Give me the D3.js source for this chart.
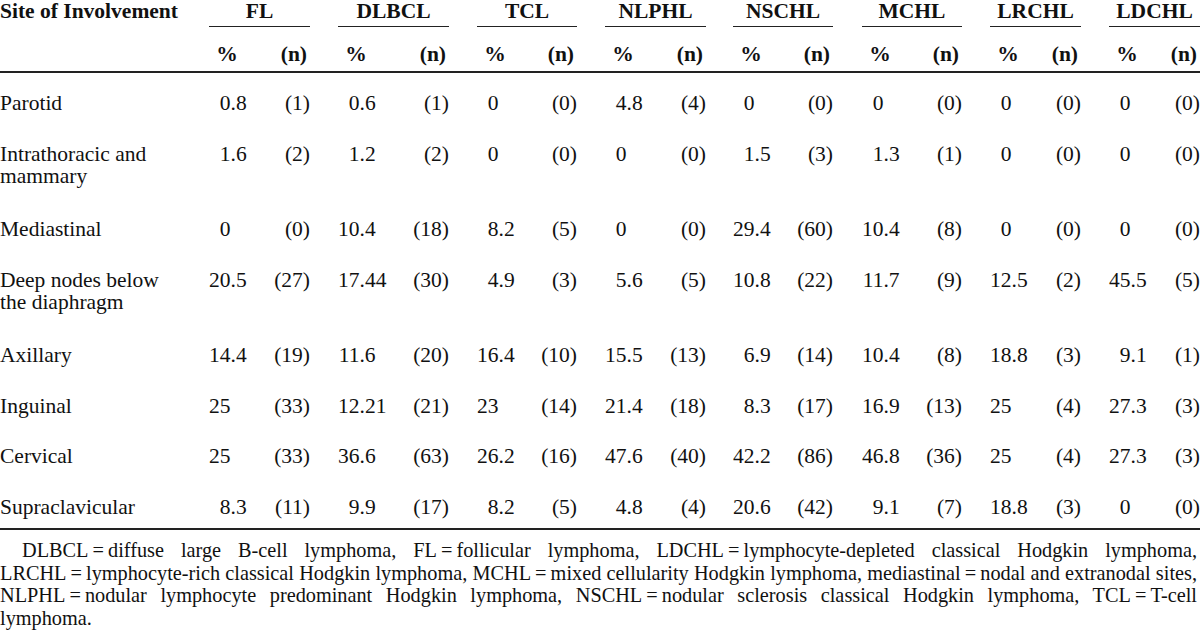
<!DOCTYPE html>
<meta charset="utf-8">
<style>

body {
  margin: 0;
  background: #fff;
}

text {
  font-family: "Liberation Serif", "Times New Roman", serif;
  font-size: 21.5px;
  fill: #111;
}

.head {
  font-weight: bold;
}

.foot {
  font-size: 20.3px;
}

.rule {
  stroke: #222;
  shape-rendering: crispEdges;
}

</style>
<body>
<script src="https://cdn.jsdelivr.net/npm/d3@7"></script>
<script>

// table data
var groups = ["FL", "DLBCL", "TCL", "NLPHL", "NSCHL", "MCHL", "LRCHL", "LDCHL"];

var sites = [["Parotid"],
             ["Intrathoracic and", "mammary"],
             ["Mediastinal"],
             ["Deep nodes below", "the diaphragm"],
             ["Axillary"],
             ["Inguinal"],
             ["Cervical"],
             ["Supraclavicular"]];

var pctFL    = [0.8, 1.6, 0, 20.5, 14.4, 25, 25, 8.3],
    nFL      = [1, 2, 0, 27, 19, 33, 33, 11];
var pctDLBCL = [0.6, 1.2, 10.4, 17.44, 11.6, 12.21, 36.6, 9.9],
    nDLBCL   = [1, 2, 18, 30, 20, 21, 63, 17];
var pctTCL   = [0, 0, 8.2, 4.9, 16.4, 23, 26.2, 8.2],
    nTCL     = [0, 0, 5, 3, 10, 14, 16, 5];
var pctNLPHL = [4.8, 0, 0, 5.6, 15.5, 21.4, 47.6, 4.8],
    nNLPHL   = [4, 0, 0, 5, 13, 18, 40, 4];
var pctNSCHL = [0, 1.5, 29.4, 10.8, 6.9, 8.3, 42.2, 20.6],
    nNSCHL   = [0, 3, 60, 22, 14, 17, 86, 42];
var pctMCHL  = [0, 1.3, 10.4, 11.7, 10.4, 16.9, 46.8, 9.1],
    nMCHL    = [0, 1, 8, 9, 8, 13, 36, 7];
var pctLRCHL = [0, 0, 0, 12.5, 18.8, 25, 25, 18.8],
    nLRCHL   = [0, 0, 0, 2, 3, 4, 4, 3];
var pctLDCHL = [0, 0, 0, 45.5, 9.1, 27.3, 27.3, 0],
    nLDCHL   = [0, 0, 0, 5, 1, 3, 3, 0];

var pct = [pctFL, pctDLBCL, pctTCL, pctNLPHL, pctNSCHL, pctMCHL, pctLRCHL, pctLDCHL],
    cnt = [nFL, nDLBCL, nTCL, nNLPHL, nNSCHL, nMCHL, nLRCHL, nLDCHL];

var notes = ["DLBCL\u2009=\u2009diffuse large B-cell lymphoma, FL\u2009=\u2009follicular lymphoma, LDCHL\u2009=\u2009lymphocyte-depleted classical Hodgkin lymphoma,",
             "LRCHL\u2009=\u2009lymphocyte-rich classical Hodgkin lymphoma, MCHL\u2009=\u2009mixed cellularity Hodgkin lymphoma, mediastinal\u2009=\u2009nodal and extranodal sites,",
             "NLPHL\u2009=\u2009nodular lymphocyte predominant Hodgkin lymphoma, NSCHL\u2009=\u2009nodular sclerosis classical Hodgkin lymphoma, TCL\u2009=\u2009T-cell",
             "lymphoma."];

var width = 1200,
    height = 630;

// column edges of each group (the underline span)
var colLeft  = d3.scaleOrdinal(groups, [209, 338, 477, 605, 733, 862, 990, 1109]),
    colRight = d3.scaleOrdinal(groups, [310, 449, 577, 706, 833, 962, 1081, 1200]);

// row baselines: each extra text line pushes the rows below down
var rowY = [];
(function () {
  var y = 110;
  sites.forEach(function (s, i) {
    rowY.push(y);
    y += 50.5 + (s.length - 1) * 25;
  });
})();
var y = d3.scaleOrdinal(d3.range(sites.length), rowY);

var svg = d3.select("body").append("svg")
    .attr("width", width)
    .attr("height", height);

// header
svg.append("text")
    .attr("class", "head")
    .attr("x", 0)
    .attr("y", 18)
    .text("Site of Involvement");

var g = svg.append("g").selectAll("g")
    .data(groups)
  .enter().append("g");

g.append("text")
    .attr("class", "head")
    .attr("x", function (d) { return (colLeft(d) + colRight(d)) / 2; })
    .attr("y", 18)
    .attr("text-anchor", "middle")
    .text(function (d) { return d; });

g.append("line")
    .attr("class", "rule")
    .attr("x1", colLeft)
    .attr("x2", colRight)
    .attr("y1", 26.5)
    .attr("y2", 26.5)
    .style("stroke-width", 1.5);

g.append("text")
    .attr("class", "head")
    .attr("x", function (d) { return colLeft(d) + 18; })
    .attr("y", 61)
    .attr("text-anchor", "middle")
    .text("%");

g.append("text")
    .attr("class", "head")
    .attr("x", function (d) { return colRight(d) - 3; })
    .attr("y", 61)
    .attr("text-anchor", "end")
    .text("(n)");

svg.append("line")
    .attr("class", "rule")
    .attr("x1", 0).attr("x2", width)
    .attr("y1", 72).attr("y2", 72)
    .style("stroke-width", 2);

// row labels
svg.append("g").selectAll("text")
    .data(sites)
  .enter().append("text")
    .attr("x", 0)
    .attr("y", function (d, i) { return y(i); })
    .each(function (d) {
      var t = d3.select(this);
      d.forEach(function (line, k) {
        t.append("tspan")
          .attr("x", 0)
          .attr("dy", k ? 22 : 0)
          .text(line);
      });
    });

// cells
var cells = [];
groups.forEach(function (grp, j) {
  sites.forEach(function (s, i) {
    cells.push({group: grp, row: i, pct: String(pct[j][i]), n: "(" + cnt[j][i] + ")"});
  });
});

var cellG = svg.append("g");

// percentages are aligned on the decimal point
cellG.selectAll(".pct")
    .data(cells)
  .enter().append("text")
    .attr("class", "pct")
    .attr("y", function (d) { return y(d.row); })
    .text(function (d) { return d.pct; })
    .attr("x", function (d) {
      var intLen = d.pct.split(".")[0].length,
          w = this.getSubStringLength(0, intLen);
      return colLeft(d.group) + 21.5 - w;
    });

cellG.selectAll(".cnt")
    .data(cells)
  .enter().append("text")
    .attr("class", "cnt")
    .attr("x", function (d) { return colRight(d.group); })
    .attr("y", function (d) { return y(d.row); })
    .attr("text-anchor", "end")
    .text(function (d) { return d.n; });

svg.append("line")
    .attr("class", "rule")
    .attr("x1", 0).attr("x2", width)
    .attr("y1", 529).attr("y2", 529)
    .style("stroke-width", 2);

// footnote, justified
svg.append("g").selectAll("text")
    .data(notes)
  .enter().append("text")
    .attr("class", "foot")
    .attr("x", function (d, i) { return i ? 0 : 22; })
    .attr("y", function (d, i) { return 557 + i * 22.5; })
    .text(function (d) { return d; })
    .each(function (d, i) {
      if (i === notes.length - 1) return;
      var start = i ? 0 : 22,
          natural = this.getComputedTextLength(),
          spaces = d.split(" ").length - 1;
      d3.select(this).style("word-spacing", ((1197 - start - natural) / spaces) + "px");
    });

</script>
